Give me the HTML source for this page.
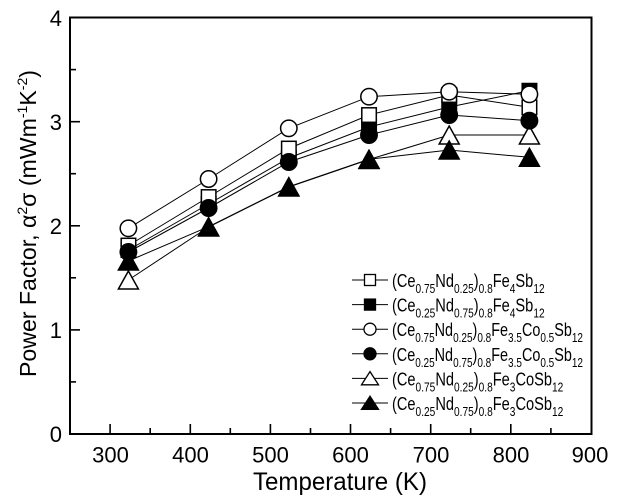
<!DOCTYPE html>
<html><head><meta charset="utf-8"><style>
html,body{margin:0;padding:0;background:#fff;}
svg{display:block;}
text{font-family:"Liberation Sans",Arial,sans-serif;fill:#000;}
</style></head><body>
<svg width="619" height="503" viewBox="0 0 619 503" xmlns="http://www.w3.org/2000/svg">
<rect x="0" y="0" width="619" height="503" fill="#fff"/>
<!-- frame -->
<rect x="70" y="17.5" width="521.5" height="416.5" fill="none" stroke="#000" stroke-width="2"/>
<!-- y ticks -->
<g stroke="#000" stroke-width="1.6">
<line x1="70" y1="329.9" x2="80" y2="329.9"/>
<line x1="70" y1="225.8" x2="80" y2="225.8"/>
<line x1="70" y1="121.7" x2="80" y2="121.7"/>
<line x1="70" y1="381.9" x2="76" y2="381.9"/>
<line x1="70" y1="277.8" x2="76" y2="277.8"/>
<line x1="70" y1="173.7" x2="76" y2="173.7"/>
<line x1="70" y1="69.6" x2="76" y2="69.6"/>
<!-- x ticks -->
<line x1="110.1" y1="434" x2="110.1" y2="424"/>
<line x1="190.3" y1="434" x2="190.3" y2="424"/>
<line x1="270.4" y1="434" x2="270.4" y2="424"/>
<line x1="350.5" y1="434" x2="350.5" y2="424"/>
<line x1="430.7" y1="434" x2="430.7" y2="424"/>
<line x1="510.8" y1="434" x2="510.8" y2="424"/>
<line x1="150.2" y1="434" x2="150.2" y2="428"/>
<line x1="230.3" y1="434" x2="230.3" y2="428"/>
<line x1="310.5" y1="434" x2="310.5" y2="428"/>
<line x1="390.6" y1="434" x2="390.6" y2="428"/>
<line x1="470.7" y1="434" x2="470.7" y2="428"/>
<line x1="550.9" y1="434" x2="550.9" y2="428"/>
</g>
<!-- tick labels -->
<g font-size="22" text-anchor="end">
<text x="62" y="442">0</text>
<text x="62" y="338">1</text>
<text x="62" y="234">2</text>
<text x="62" y="130">3</text>
<text x="62" y="26">4</text>
</g>
<g font-size="22" text-anchor="middle">
<text x="110.5" y="462.5">300</text>
<text x="190.5" y="462.5">400</text>
<text x="270.5" y="462.5">500</text>
<text x="350.5" y="462.5">600</text>
<text x="431" y="462.5">700</text>
<text x="511" y="462.5">800</text>
<text x="590" y="462.5">900</text>
</g>
<!-- axis titles -->
<text x="253" y="490" font-size="25" textLength="174" lengthAdjust="spacingAndGlyphs">Temperature  (K)</text>
<text transform="translate(36,377) rotate(-90)" x="0" y="0" font-size="23" textLength="307" lengthAdjust="spacingAndGlyphs">Power Factor, α<tspan font-size="14" dy="-9">2</tspan><tspan dy="9">σ  (mWm</tspan><tspan font-size="14" dy="-9">-1</tspan><tspan dy="9">K</tspan><tspan font-size="14" dy="-9">-2</tspan><tspan dy="9">)</tspan></text>

<!-- series lines -->
<g fill="none" stroke="#000" stroke-width="1">
<polyline points="128.4,228.3 208.6,179 288.8,128.3 369,96.7 449.2,91.7 529.4,94.3"/>
<polyline points="128.4,245.5 208.6,197 288.8,148.5 369,115 449.2,95 529.4,107.3"/>
<polyline points="128.4,250 208.6,204 288.8,158 369,127 449.2,107 529.4,90.7"/>
<polyline points="128.4,252 208.6,208 288.8,162 369,135 449.2,115 529.4,120.7"/>
<polyline points="128.4,280 208.6,227 288.8,187 369,159.5 449.2,135 529.4,135"/>
<polyline points="128.4,261 208.6,226.7 288.8,186.7 369,159.3 449.2,150 529.4,157.3"/>
</g>

<!-- markers -->
<g stroke="#000" stroke-width="1.5">
<g fill="#fff">
<polygon points="128.4,271 118.4,289 138.4,289"/>
<polygon points="208.6,218 198.6,236 218.6,236"/>
<polygon points="288.8,178 278.8,196 298.8,196"/>
<polygon points="369,150.5 359,168.5 379,168.5"/>
<polygon points="449.2,126 439.2,144 459.2,144"/>
<polygon points="529.4,126 519.4,144 539.4,144"/>
</g>
<g fill="#000">
<polygon points="128.4,252 118.4,270 138.4,270"/>
<polygon points="208.6,217.7 198.6,235.7 218.6,235.7"/>
<polygon points="288.8,177.7 278.8,195.7 298.8,195.7"/>
<polygon points="369,150.3 359,168.3 379,168.3"/>
<polygon points="449.2,141 439.2,159 459.2,159"/>
<polygon points="529.4,148.3 519.4,166.3 539.4,166.3"/>
</g>
<g fill="#000">
<rect x="121.2" y="242.8" width="14.5" height="14.5"/>
<rect x="201.4" y="196.8" width="14.5" height="14.5"/>
<rect x="281.6" y="150.8" width="14.5" height="14.5"/>
<rect x="361.8" y="119.8" width="14.5" height="14.5"/>
<rect x="442" y="99.8" width="14.5" height="14.5"/>
<rect x="522.2" y="83.5" width="14.5" height="14.5"/>
</g>
<g fill="#fff">
<rect x="121.2" y="238.3" width="14.5" height="14.5"/>
<rect x="201.4" y="189.8" width="14.5" height="14.5"/>
<rect x="281.6" y="141.3" width="14.5" height="14.5"/>
<rect x="361.8" y="107.8" width="14.5" height="14.5"/>
<rect x="442" y="87.8" width="14.5" height="14.5"/>
<rect x="522.2" y="100.1" width="14.5" height="14.5"/>
</g>
<g fill="#fff">
<circle cx="128.4" cy="228.3" r="8.2"/>
<circle cx="208.6" cy="179" r="8.2"/>
<circle cx="288.8" cy="128.3" r="8.2"/>
<circle cx="369" cy="96.7" r="8.2"/>
<circle cx="449.2" cy="91.7" r="8.2"/>
<circle cx="529.4" cy="94.3" r="8.2"/>
</g>
<g fill="#000">
<circle cx="128.4" cy="252" r="8.2"/>
<circle cx="208.6" cy="208" r="8.2"/>
<circle cx="288.8" cy="162" r="8.2"/>
<circle cx="369" cy="135" r="8.2"/>
<circle cx="449.2" cy="115" r="8.2"/>
<circle cx="529.4" cy="120.7" r="8.2"/>
</g>
</g>

<!-- legend -->
<g stroke="#000" stroke-width="1">
<line x1="352" y1="280" x2="388" y2="280"/>
<line x1="352" y1="304.6" x2="388" y2="304.6"/>
<line x1="352" y1="329.2" x2="388" y2="329.2"/>
<line x1="352" y1="353.8" x2="388" y2="353.8"/>
<line x1="352" y1="378.4" x2="388" y2="378.4"/>
<line x1="352" y1="403" x2="388" y2="403"/>
</g>
<g stroke="#000" stroke-width="1.3">
<rect x="364.5" y="274.5" width="11" height="11" fill="#fff"/>
<rect x="364.5" y="299.1" width="11" height="11" fill="#000"/>
<circle cx="370" cy="329.2" r="6" fill="#fff"/>
<circle cx="370" cy="353.8" r="6" fill="#000"/>
<polygon points="370,371.6 361.5,384.8 378.5,384.8" fill="#fff"/>
<polygon points="370,396.2 361.5,409.4 378.5,409.4" fill="#000"/>
</g>
<g font-size="18">
<text x="392" y="287" textLength="152.6" lengthAdjust="spacingAndGlyphs">(Ce<tspan font-size="12.5" dy="6">0.75</tspan><tspan dy="-6">Nd</tspan><tspan font-size="12.5" dy="6">0.25</tspan><tspan dy="-6">)</tspan><tspan font-size="12.5" dy="6">0.8</tspan><tspan dy="-6">Fe</tspan><tspan font-size="12.5" dy="6">4</tspan><tspan dy="-6">Sb</tspan><tspan font-size="12.5" dy="6">12</tspan></text>
<text x="392" y="311.6" textLength="152.6" lengthAdjust="spacingAndGlyphs">(Ce<tspan font-size="12.5" dy="6">0.25</tspan><tspan dy="-6">Nd</tspan><tspan font-size="12.5" dy="6">0.75</tspan><tspan dy="-6">)</tspan><tspan font-size="12.5" dy="6">0.8</tspan><tspan dy="-6">Fe</tspan><tspan font-size="12.5" dy="6">4</tspan><tspan dy="-6">Sb</tspan><tspan font-size="12.5" dy="6">12</tspan></text>
<text x="392" y="336.2" textLength="191" lengthAdjust="spacingAndGlyphs">(Ce<tspan font-size="12.5" dy="6">0.75</tspan><tspan dy="-6">Nd</tspan><tspan font-size="12.5" dy="6">0.25</tspan><tspan dy="-6">)</tspan><tspan font-size="12.5" dy="6">0.8</tspan><tspan dy="-6">Fe</tspan><tspan font-size="12.5" dy="6">3.5</tspan><tspan dy="-6">Co</tspan><tspan font-size="12.5" dy="6">0.5</tspan><tspan dy="-6">Sb</tspan><tspan font-size="12.5" dy="6">12</tspan></text>
<text x="392" y="360.8" textLength="191" lengthAdjust="spacingAndGlyphs">(Ce<tspan font-size="12.5" dy="6">0.25</tspan><tspan dy="-6">Nd</tspan><tspan font-size="12.5" dy="6">0.75</tspan><tspan dy="-6">)</tspan><tspan font-size="12.5" dy="6">0.8</tspan><tspan dy="-6">Fe</tspan><tspan font-size="12.5" dy="6">3.5</tspan><tspan dy="-6">Co</tspan><tspan font-size="12.5" dy="6">0.5</tspan><tspan dy="-6">Sb</tspan><tspan font-size="12.5" dy="6">12</tspan></text>
<text x="392" y="385.4" textLength="171.3" lengthAdjust="spacingAndGlyphs">(Ce<tspan font-size="12.5" dy="6">0.75</tspan><tspan dy="-6">Nd</tspan><tspan font-size="12.5" dy="6">0.25</tspan><tspan dy="-6">)</tspan><tspan font-size="12.5" dy="6">0.8</tspan><tspan dy="-6">Fe</tspan><tspan font-size="12.5" dy="6">3</tspan><tspan dy="-6">CoSb</tspan><tspan font-size="12.5" dy="6">12</tspan></text>
<text x="392" y="410" textLength="171.3" lengthAdjust="spacingAndGlyphs">(Ce<tspan font-size="12.5" dy="6">0.25</tspan><tspan dy="-6">Nd</tspan><tspan font-size="12.5" dy="6">0.75</tspan><tspan dy="-6">)</tspan><tspan font-size="12.5" dy="6">0.8</tspan><tspan dy="-6">Fe</tspan><tspan font-size="12.5" dy="6">3</tspan><tspan dy="-6">CoSb</tspan><tspan font-size="12.5" dy="6">12</tspan></text>
</g>
</svg>
</body></html>
